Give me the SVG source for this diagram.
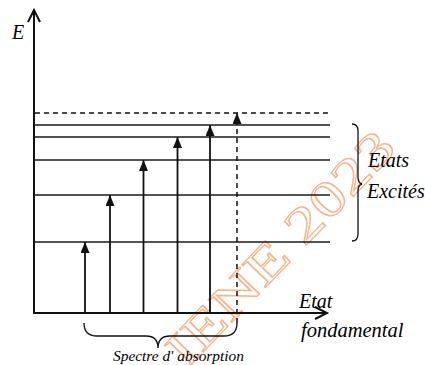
<svg xmlns="http://www.w3.org/2000/svg" width="425" height="365" viewBox="0 0 425 365">
<style>
.ax{stroke:#111;stroke-width:2;fill:none}
.lvl{stroke:#1a1a1a;stroke-width:1.5;fill:none}
.dash{stroke:#111;stroke-width:1.5;stroke-dasharray:5 4;fill:none}
.arr{stroke:#111;stroke-width:1.8;fill:none}
.brace{stroke:#111;stroke-width:1.3;fill:none}
.lbl{font-style:italic;fill:#000}
.wm{font-size:50px;fill:none;stroke:#f6b48f;stroke-width:1.3}
</style>
<defs>
<marker id="ah" viewBox="0 0 11 9" refX="11" refY="4.5" markerWidth="11" markerHeight="9" markerUnits="userSpaceOnUse" orient="auto">
<path d="M0,0 L11,4.5 L0,9 z" fill="#111"/>
</marker>
</defs>
<g id="watermark">
<text class="wm" font-family="'Liberation Serif', 'DejaVu Serif', serif" transform="translate(280,248) rotate(-46)" text-anchor="middle" dominant-baseline="central" textLength="305" lengthAdjust="spacingAndGlyphs">IENE 2023</text>
</g>
<g id="axes">
<line class="ax" x1="34" y1="314" x2="34" y2="11"/>
<polyline class="ax" points="28,22 34,10 40,22"/>
<line class="ax" x1="33" y1="313" x2="326" y2="313"/>
<polyline class="ax" points="315,307 327,313 315,319"/>
</g>
<g id="levels">
<line class="dash" x1="35" y1="113" x2="330" y2="113"/>
<line class="lvl" x1="35" y1="125" x2="330" y2="125"/>
<line class="lvl" x1="35" y1="137" x2="330" y2="137"/>
<line class="lvl" x1="35" y1="160" x2="330" y2="160"/>
<line class="lvl" x1="35" y1="195" x2="330" y2="195"/>
<line class="lvl" x1="35" y1="242" x2="330" y2="242"/>
</g>
<g id="connectors">
<line class="arr" x1="85" y1="313" x2="85" y2="242" marker-end="url(#ah)"/>
<line class="arr" x1="110" y1="313" x2="110" y2="195" marker-end="url(#ah)"/>
<line class="arr" x1="143.5" y1="313" x2="143.5" y2="160" marker-end="url(#ah)"/>
<line class="arr" x1="177.5" y1="313" x2="177.5" y2="137" marker-end="url(#ah)"/>
<line class="arr" x1="210" y1="313" x2="210" y2="125" marker-end="url(#ah)"/>
<line class="dash" x1="237" y1="323" x2="237" y2="113" marker-end="url(#ah)"/>
</g>
<g id="brace-spectre">
<path class="brace" d="M84,323 Q84,336 97,336 L146,336 Q158,336 158,348 Q158,336 170,336 L224,336 Q237,336 237,323"/>
</g>
<g id="brace-excites">
<path class="brace" d="M352,124 Q358,124 358,131 L358,177 Q358,183 362,184 Q358,185 358,191 L358,234 Q358,241 352,241"/>
</g>
<g id="labels" font-family="'Liberation Serif', 'DejaVu Serif', serif">
<text class="lbl" x="12" y="39" font-size="20">E</text>
<text class="lbl" x="368" y="167" font-size="20">Etats</text>
<text class="lbl" x="367" y="198" font-size="20">Excités</text>
<text class="lbl" x="299" y="308" font-size="20">Etat</text>
<text class="lbl" x="301" y="337" font-size="20.5">fondamental</text>
<text class="lbl" x="113" y="361" font-size="15.4">Spectre d' absorption</text>
</g>
</svg>
